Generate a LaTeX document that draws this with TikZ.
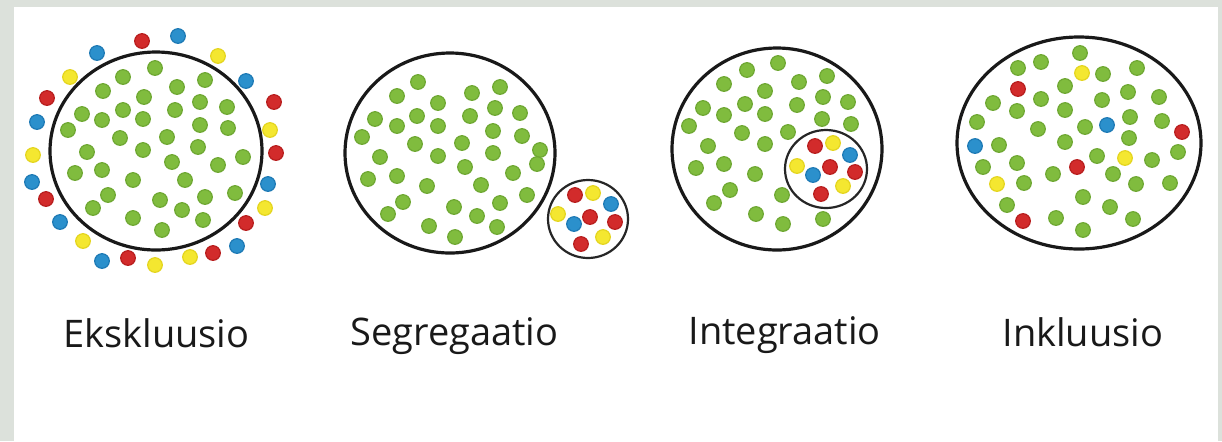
\documentclass[tikz,border=0pt]{standalone}
\usepackage{fontspec}
\setmainfont{Open Sans}
\definecolor{bggrey}{HTML}{DCE1DB}
\definecolor{dgreen}{HTML}{80BC3E}
\definecolor{dgreenl}{HTML}{6FA833}
\definecolor{dred}{HTML}{D22B2B}
\definecolor{dredl}{HTML}{B81E1E}
\definecolor{dblue}{HTML}{2B90CC}
\definecolor{dbluel}{HTML}{1E7AB5}
\definecolor{dyellow}{HTML}{F4E730}
\definecolor{dyellowl}{HTML}{E4D520}
\tikzset{
  gdot/.style={fill=dgreen,draw=dgreenl,line width=0.6pt},
  rdot/.style={fill=dred,draw=dredl,line width=0.6pt},
  bdot/.style={fill=dblue,draw=dbluel,line width=0.6pt},
  ydot/.style={fill=dyellow,draw=dyellowl,line width=0.6pt},
  ring/.style={draw=black!90,line width=1.6pt},
  smallring/.style={draw=black!85,line width=1.1pt},
  lbl/.style={anchor=base west,inner sep=0pt,font=\fontsize{19}{22}\selectfont,text=black!90}
}
\begin{document}
\begin{tikzpicture}[x=0.5pt,y=-0.5pt]
\useasboundingbox (0,0) rectangle (1222,441);
\fill[bggrey] (0,0) rectangle (1222,441);
\fill[white] (14,7) rectangle (1218,441);
% ---------- 1: Ekskluusio ----------
\draw[ring] (156,151) ellipse[x radius=106,y radius=99];
\foreach \x/\y in {155/68,123/77,205/80,177/87,103/91,144/97,200/102,227/107,82/114,123/110,175/110,102/120,143/119,200/125,228/128,68/130,120/138,167/137,143/150,198/147,87/152,243/157,172/162,218/165,75/173,102/170,133/180,185/180,108/195,205/197,235/193,160/200,93/208,182/210,133/218,203/220,162/230}
  \draw[gdot] (\x,\y) circle[radius=7.3];
\foreach \x/\y in {142/41,47/98,274/102,276/153,46/199,246/223,213/253,128/258}
  \draw[rdot] (\x,\y) circle[radius=7.3];
\foreach \x/\y in {178/36,97/53,246/81,37/122,32/182,268/184,60/222,237/246,102/261}
  \draw[bdot] (\x,\y) circle[radius=7.3];
\foreach \x/\y in {218/56,70/77,270/130,33/155,265/208,83/241,155/265,190/257}
  \draw[ydot] (\x,\y) circle[radius=7.3];
% ---------- 2: Segregaatio ----------
\draw[ring] (450,153) ellipse[x radius=105,y radius=100];
\foreach \x/\y in {418/82,397/96,472/93,500/87,438/103,495/108,520/113,375/119,417/116,470/116,397/126,438/126,493/131,522/136,362/137,415/144,462/143,493/153,540/150,380/157,438/156,537/164,465/167,513/173,368/179,397/176,427/186,481/185,527/195,403/202,500/203,454/207,388/214,477/216,429/226,497/227,455/237}
  \draw[gdot] (\x,\y) circle[radius=7.3];
\draw[smallring] (588,219) ellipse[x radius=40,y radius=39];
\foreach \x/\y in {575/195,590/217,615/222,581/244}
  \draw[rdot] (\x,\y) circle[radius=7.3];
\foreach \x/\y in {611/204,574/224}
  \draw[bdot] (\x,\y) circle[radius=7.3];
\foreach \x/\y in {593/193,558/214,603/237}
  \draw[ydot] (\x,\y) circle[radius=7.3];
% ---------- 3: Integraatio ----------
\draw[ring] (777,149) ellipse[x radius=105,y radius=101];
\foreach \x/\y in {778/63,747/70,827/76,724/84,799/82,765/91,823/97,848/102,703/108,745/104,797/105,724/115,765/114,822/119,689/126,851/124,742/133,788/132,708/146,765/144,696/168,724/164,755/174,730/190,714/203,782/195,756/214,783/224,823/219}
  \draw[gdot] (\x,\y) circle[radius=7.3];
\draw[smallring] (826,169) ellipse[x radius=41,y radius=39];
\foreach \x/\y in {815/146,830/167,855/172,821/194}
  \draw[rdot] (\x,\y) circle[radius=7.3];
\foreach \x/\y in {850/155,813/175}
  \draw[bdot] (\x,\y) circle[radius=7.3];
\foreach \x/\y in {833/143,797/166,843/186}
  \draw[ydot] (\x,\y) circle[radius=7.3];
% ---------- 4: Inkluusio ----------
\draw[ring] (1079,143) ellipse[x radius=122,y radius=106];
\foreach \x/\y in {1080/53,1018/68,1041/62,1103/74,1137/68,1065/86,1128/92,1159/97,993/103,1041/99,1102/100,1017/111,1065/110,1130/117,977/122,1162/121,1038/129,1085/127,999/145,1065/142,1129/138,1178/152,1097/156,1152/160,983/167,1017/163,1053/174,1113/174,1024/183,1136/184,1170/183,1083/197,1007/205,1110/207,1056/218,1133/219,1083/230}
  \draw[gdot] (\x,\y) circle[radius=7.3];
\foreach \x/\y in {1018/89,1182/132,1077/167,1023/221}
  \draw[rdot] (\x,\y) circle[radius=7.3];
\foreach \x/\y in {1107/125,975/146}
  \draw[bdot] (\x,\y) circle[radius=7.3];
\foreach \x/\y in {1082/73,1125/158,997/184}
  \draw[ydot] (\x,\y) circle[radius=7.3];
% ---------- labels ----------
\node[lbl] (l1) at (63,347) {Ekskluusio};
\node[lbl] (l2) at (350,345) {Segregaatio};
\node[lbl] (l3) at (688,344) {Integraatio};
\node[lbl] (l4) at (1002,346) {Inkluusio};
\end{tikzpicture}
\end{document}
